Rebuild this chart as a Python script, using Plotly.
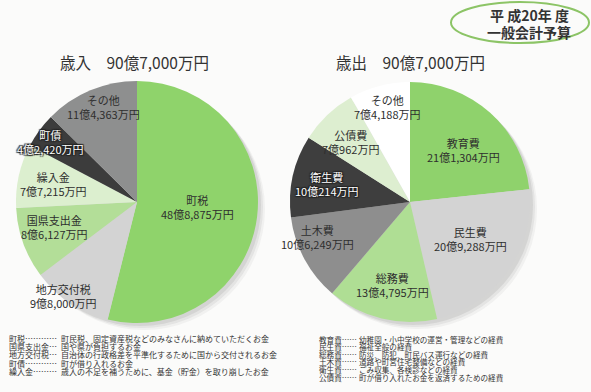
import plotly.graph_objects as go

W, H = 591, 392

# ---- data (万円) ----
rev_labels = ["町税", "地方交付税", "国県支出金", "繰入金", "町債", "その他"]
rev_values = [488875, 98000, 86127, 77215, 42420, 114363]
rev_colors = ["#8fd36b", "#d3d3d3", "#b3de98", "#dcefcf", "#3c3c3c", "#8e8f8f"]

exp_labels = ["教育費", "民生費", "総務費", "土木費", "衛生費", "公債費", "その他"]
exp_values = [211304, 209288, 134795, 106249, 100214, 70962, 74188]
exp_colors = ["#8fd26c", "#d3d3d3", "#afde94", "#8e8e8e", "#3e3e3e", "#ddeed0", "#ffffff"]

rev_title = "歳入　90億7,000万円"
exp_title = "歳出　90億7,000万円"
badge_lines = ["平 成20年 度", "一般会計予算"]

rev_notes = [
    ("町税…………", "町民税、固定資産税などのみなさんに納めていただくお金"),
    ("国県支出金…", "国や県が負担するお金"),
    ("地方交付税…", "自治体の行政格差を平準化するために国から交付されるお金"),
    ("町債…………", "町が借り入れるお金"),
    ("繰入金………", "歳入の不足を補うために、基金（貯金）を取り崩したお金"),
]
exp_notes = [
    ("教育費……", "幼稚園・小中学校の運営・管理などの経費"),
    ("民生費……", "福祉全般の経費"),
    ("総務費……", "防災、防犯、町民バス運行などの経費"),
    ("土木費……", "道路や町営住宅整備などの経費"),
    ("衛生費……", "ごみ収集、各検診などの経費"),
    ("公債費……", "町が借り入れたお金を返済するための経費"),
]

# label anchor positions (pixels)
rev_label_pos = [(197, 207), (63, 296), (54, 227), (53, 184), (50, 142), (103, 107)]
exp_label_pos = [(463, 150), (470, 239), (392, 285), (318, 237), (327, 184), (350, 142), (387, 107)]
dark_rev = {"町債"}
dark_exp = {"衛生費"}

FONT = "Noto Sans CJK JP, Noto Sans, sans-serif"


def px(x):
    return x / W


def py(y):
    return 1 - y / H


def fmt(v):
    oku, man = divmod(v, 10000)
    return f"{oku}億{man:,}万円"


fig = go.Figure()

# pies: left center (137,202) r 121 ; right center (410,202) r 120
fig.add_trace(go.Pie(
    labels=rev_labels, values=rev_values, sort=False, direction="clockwise", rotation=0,
    marker=dict(colors=rev_colors, line=dict(width=0)), textinfo="none", hoverinfo="label+value",
    domain=dict(x=[px(16), px(258)], y=[py(323), py(81)]), showlegend=False, name="歳入",
))
fig.add_trace(go.Pie(
    labels=exp_labels, values=exp_values, sort=False, direction="clockwise", rotation=0,
    marker=dict(colors=exp_colors, line=dict(width=0)), textinfo="none", hoverinfo="label+value",
    domain=dict(x=[px(290), px(530)], y=[py(322), py(82)]), showlegend=False, name="歳出",
))

shapes = []
# soft drop shadows
for (cx, cy, r) in [(137, 202, 121), (410, 202, 120)]:
    for k, a in [(7, 0.05), (5, 0.07), (3, 0.09)]:
        shapes.append(dict(type="circle", xref="paper", yref="paper", layer="below",
                           x0=px(cx - r + k), x1=px(cx + r + k), y0=py(cy + r + k), y1=py(cy - r + k),
                           line=dict(width=0), fillcolor=f"rgba(60,60,60,{a})"))
# badge oval
shapes.append(dict(type="circle", xref="paper", yref="paper", x0=px(451), x1=px(589), y0=py(43), y1=py(2),
                   line=dict(color="#8cc466", width=2), fillcolor="rgba(255,255,255,0)"))

ann = []
OUTLINE = "1px 1px 1px #222, -1px -1px 1px #222, 1px -1px 1px #222, -1px 1px 1px #222"


def A(text, x, y, size, color="#333333", xanchor="center", align="center", shadow=None):
    f = dict(family=FONT, size=size, color=color)
    if shadow:
        f["shadow"] = shadow
    ann.append(dict(text=text, x=px(x), y=py(y), showarrow=False, xref="paper", yref="paper",
                    xanchor=xanchor, yanchor="middle", align=align, font=f))


A(rev_title, 134, 62, 15.5)
A(exp_title, 410, 62, 15.5)
for i, t in enumerate(badge_lines):
    A(f"<b>{t}</b>", 529, 15 + 17 * i, 14)


def add_labels(labels, values, pos, dark):
    for lab, v, (x, y) in zip(labels, values, pos):
        if lab in dark:
            A(f"{lab}<br>{fmt(v)}", x, y, 11, color="#ffffff", shadow=OUTLINE)
        else:
            A(f"{lab}<br>{fmt(v)}", x, y, 11, color="#2e2e2e")


add_labels(rev_labels, rev_values, rev_label_pos, dark_rev)
add_labels(exp_labels, exp_values, exp_label_pos, dark_exp)

for i, (a, b) in enumerate(rev_notes):
    y = 338 + 8.4 * i
    A(a, 7, y, 8, xanchor="left", align="left")
    A(b, 59, y, 8, xanchor="left", align="left")
for i, (a, b) in enumerate(exp_notes):
    y = 339 + 7.6 * i
    A(a, 317, y, 7.6, xanchor="left", align="left")
    A(b, 357, y, 7.6, xanchor="left", align="left")

fig.update_layout(width=W, height=H, margin=dict(l=0, r=0, t=0, b=0),
                  paper_bgcolor="#fbfbfa", plot_bgcolor="#fbfbfa",
                  shapes=shapes, annotations=ann)

fig.write_html("out.html", config={"displayModeBar": False},
               post_script="document.body.style.margin='0';document.body.style.overflow='hidden';")
